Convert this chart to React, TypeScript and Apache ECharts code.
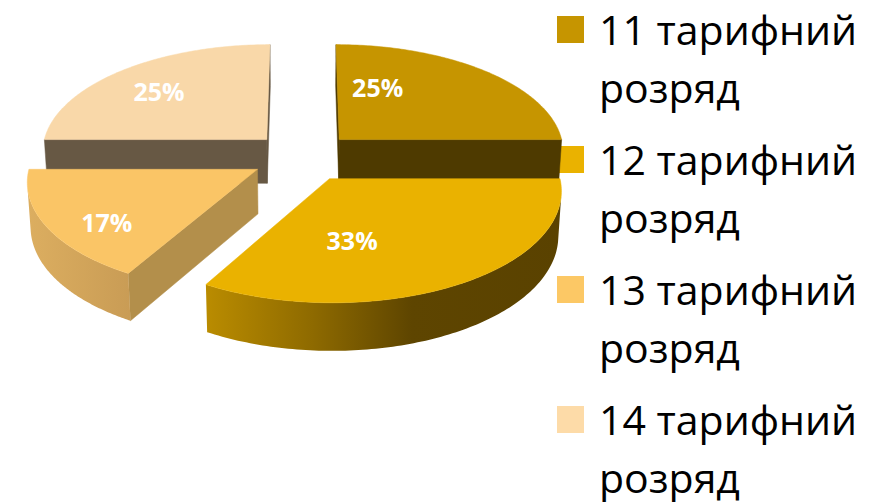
import React, { useEffect, useRef } from 'react';
import * as echarts from 'echarts';

// ---- data ----
const CATEGORIES = ['11 тарифний розряд', '12 тарифний розряд', '13 тарифний розряд', '14 тарифний розряд'];
const VALUES = [3, 4, 2, 3];

// ---- styles ----
const TOP_COLORS = ['#C69500', '#EAB200', '#FAC566', '#F9D8A9'];
const LEGEND_COLORS = ['#C69500', '#EAB200', '#FCC865', '#FDDBA8'];
const CUT_COLORS = ['#4E3A00', '#5C4300', '#B38F4B', '#675844'];
const WALL_STOPS: Array<Array<[number, string]>> = [
  [[0, '#8A6800'], [1, '#5A4200']],
  [[0, '#BA8C00'], [0.3, '#8E6A00'], [0.58, '#5E4500'], [1, '#5A4200']],
  [[0, '#DCAE60'], [1, '#C99C55']],
  [[0, '#B0A080'], [1, '#8C7C62']],
];
const LABEL_OFFSETS = [[0.19, -0.527], [0.087, 0.523], [-0.62, 0.46], [-0.515, -0.485]];
const DRAW_ORDER = [0, 3, 2, 1];

// ---- projection (perspective 3D pie) ----
const CAM = { cx: 303, cy: 156.8, F: 2034, L: 9, s: 0.4755, c: 0.8797, T: 0.225, explode: 0.23 };
const CAM_Y = CAM.L * CAM.c;

function proj(X: number, Y: number, Z: number): number[] {
  const d = CAM.L - (Y * CAM.c + Z * CAM.s);
  return [CAM.cx + (CAM.F * X) / d, CAM.cy + (CAM.F * (Y * CAM.s - Z * CAM.c)) / d];
}

const TOTAL = VALUES.reduce((a, b) => a + b, 0);
const STARTS = VALUES.map((_, i) => VALUES.slice(0, i).reduce((a, b) => a + b, 0));

function makeRenderItem(i: number) {
  return (params: any, api: any) => {
    const v = api.value(0);
    const st = api.value(1);
    const a0 = (st / TOTAL) * Math.PI * 2;
    const a1 = ((st + v) / TOTAL) * Math.PI * 2;
    const m = (a0 + a1) / 2;
    const ox = CAM.explode * Math.sin(m);
    const oy = -CAM.explode * Math.cos(m);
    const T = CAM.T;
    const rim = (t: number, z: number) => proj(ox + Math.sin(t), oy - Math.cos(t), z);
    const apex = (z: number) => proj(ox, oy, z);
    const children: any[] = [];

    // cut faces
    const faces: Array<[number, number]> = [[a0, -1], [a1, 1]];
    faces.forEach(([a, sign]) => {
      const nx = sign * Math.cos(a);
      const ny = sign * Math.sin(a);
      const dot = nx * (0 - ox) + ny * (CAM_Y - oy);
      if (dot > 0) {
        children.push({
          type: 'polygon',
          shape: { points: [apex(0), rim(a, 0), rim(a, -T), apex(-T)] },
          style: { fill: CUT_COLORS[i], stroke: CUT_COLORS[i], lineWidth: 0.5 },
        });
      }
    });

    // outer wall
    const N = 120;
    let run: number[] = [];
    const runs: number[][] = [];
    for (let k = 0; k <= N; k++) {
      const t = a0 + ((a1 - a0) * k) / N;
      const vis = -1 - ox * Math.sin(t) - Math.cos(t) * (CAM_Y - oy) > 0;
      if (vis) run.push(t);
      else if (run.length) {
        runs.push(run);
        run = [];
      }
    }
    if (run.length) runs.push(run);
    runs.forEach((r) => {
      if (r.length < 2) return;
      const pts = r.map((t) => rim(t, 0)).concat(r.slice().reverse().map((t) => rim(t, -T)));
      children.push({
        type: 'polygon',
        shape: { points: pts },
        style: {
          fill: new echarts.graphic.LinearGradient(0, 0, 1, 0, WALL_STOPS[i].map(([o, c]) => ({ offset: o, color: c }))),
        },
      });
    });

    // top face
    const topPts = [apex(0)];
    for (let k = 0; k <= N; k++) topPts.push(rim(a0 + ((a1 - a0) * k) / N, 0));
    children.push({
      type: 'polygon',
      shape: { points: topPts },
      style: { fill: TOP_COLORS[i], stroke: TOP_COLORS[i], lineWidth: 0.5 },
    });

    // label
    const [lx, ly] = proj(ox + LABEL_OFFSETS[i][0], oy + LABEL_OFFSETS[i][1], 0);
    children.push({
      type: 'text',
      x: lx,
      y: ly,
      style: {
        text: Math.round((v / TOTAL) * 100) + '%',
        fill: '#FFFFFF',
        fontSize: 25,
        fontWeight: 'bold',
        fontFamily: 'Open Sans',
        align: 'center',
        verticalAlign: 'middle',
      },
    });

    return { type: 'group', children };
  };
}

export default function App() {
  const ref = useRef<HTMLDivElement>(null);
  useEffect(() => {
    if (!ref.current) return;
    const chart = echarts.init(ref.current, null, { renderer: 'svg' });
    const series = DRAW_ORDER.map((i) => ({
      type: 'custom',
      name: CATEGORIES[i],
      coordinateSystem: 'none',
      renderItem: makeRenderItem(i),
      data: [[VALUES[i], STARTS[i]]],
      silent: true,
    }));
    const legendGraphics: any[] = [];
    CATEGORIES.forEach((name, i) => {
      legendGraphics.push({
        type: 'rect',
        left: 557,
        top: 16 + 130 * i,
        shape: { width: 27, height: 27 },
        style: { fill: LEGEND_COLORS[i] },
      });
      legendGraphics.push({
        type: 'text',
        left: 599,
        top: 0 + 130 * i,
        style: {
          text: name.replace(' розряд', '\nрозряд'),
          fill: '#000000',
          fontSize: 41,
          fontFamily: 'Open Sans',
          lineHeight: 58,
        },
      });
    });
    chart.setOption({
      animation: false,
      backgroundColor: '#FFFFFF',
      series,
      graphic: legendGraphics,
    });
    return () => chart.dispose();
  }, []);
  return <div ref={ref} style={{ position: 'fixed', left: 0, top: 0, width: 880, height: 502 }} />;
}
